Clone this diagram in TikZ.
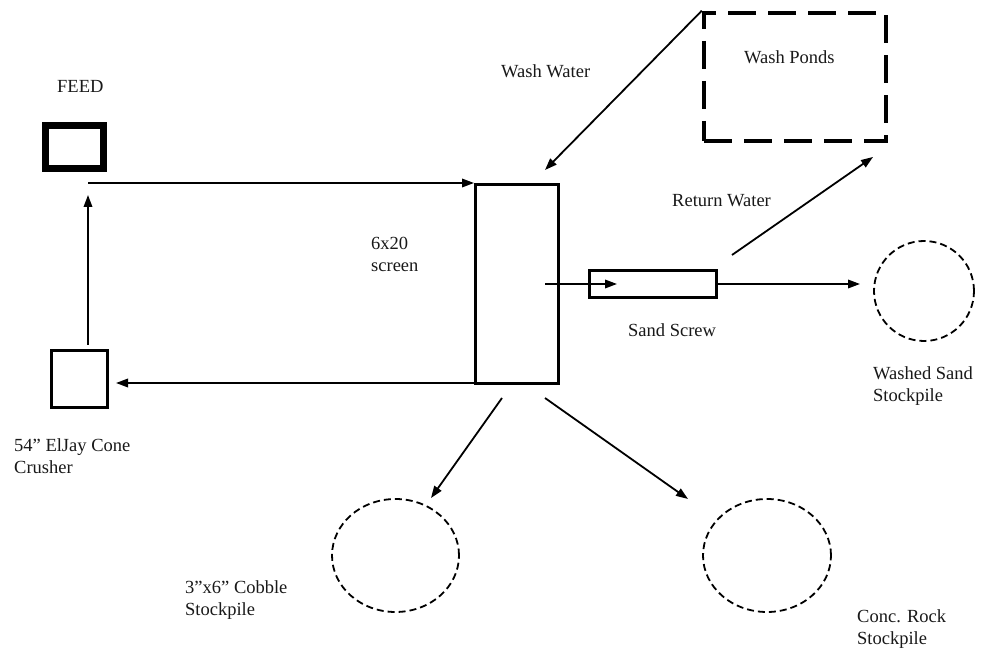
\documentclass[tikz,border=0pt]{standalone}
\usepackage{fontspec}
\setmainfont{Liberation Serif}
\usetikzlibrary{arrows.meta,shapes.geometric}
\newcommand{\twolines}[2]{\begin{tabular}[t]{@{}l@{}}#1\\#2\end{tabular}}
\tikzset{
  lbl/.style={anchor=base west,inner sep=0pt,text=black!90,font=\fontsize{18.5}{22}\selectfont},
  box/.style={draw,rectangle,inner sep=0pt,line width=3pt},
  pile/.style={draw,ellipse,inner sep=0pt,line width=1.8pt,dash pattern=on 7pt off 4pt},
  flow/.style={line width=1.8pt,-{Triangle[length=12pt,width=8.5pt]}},
}
\begin{document}
\begin{tikzpicture}[x=1pt,y=-1pt]
\useasboundingbox[fill=white] (0,0) rectangle (983,652);
% equipment
\node[box,line width=7pt,minimum width=58pt,minimum height=43pt] (feed) at (74.5,147) {};
\node[box,minimum width=56pt,minimum height=57pt] (crusher) at (79.5,379) {};
\node[box,minimum width=83pt,minimum height=199pt] (screen) at (517,284) {};
\node[box,minimum width=127pt,minimum height=27pt] (screw) at (653,284) {};
\node[draw,rectangle,inner sep=0pt,line width=4.5pt,dash pattern=on 28pt off 12pt,minimum width=182pt,minimum height=128pt] (ponds) at (795,77) {};
\node[pile,minimum width=100pt,minimum height=100pt] (sand) at (924,291) {};
\node[pile,minimum width=127pt,minimum height=113pt] (cobble) at (395.5,555.5) {};
\node[pile,minimum width=128pt,minimum height=113pt] (rock) at (767,555.5) {};
% labels
\node[lbl] (tfeed) at (57,93) {FEED};
\node[lbl] (tcrusher) at (14,451) {\twolines{54” ElJay Cone}{Crusher}};
\node[lbl] (tscreen) at (371,250) {\twolines{6x20}{screen}};
\node[lbl] (twash) at (501,78) {Wash Water};
\node[lbl] (tponds) at (744,64) {Wash Ponds};
\node[lbl] (treturn) at (672,207) {Return Water};
\node[lbl] (tscrew) at (628,337) {Sand Screw};
\node[lbl] (tsand) at (873,380) {\twolines{Washed Sand}{Stockpile}};
\node[lbl] (tcobble) at (185,593) {\twolines{3”x6” Cobble}{Stockpile}};
\node[lbl] (trock) at (857,622) {\twolines{Conc. Rock}{Stockpile}};
% connector end points
\coordinate (crushtop) at (88,345);
\coordinate (feedin) at (88,195);
\coordinate (crushin) at (116,383);
\coordinate (washend) at (545,170);
\coordinate (retstart) at (732,255);
\coordinate (retend) at (873,157);
\coordinate (scrstart) at (545,284);
\coordinate (scrend) at (617,284);
\coordinate (sandend) at (860,284);
\coordinate (cobstart) at (502,398);
\coordinate (cobend) at (431,498);
\coordinate (rockstart) at (545,398);
\coordinate (rockend) at (688,499);
% connectors
\draw[flow] (feedin |- screen.north west) -- (screen.north west);
\draw[flow] (crushtop) -- (feedin);
\draw[flow] (screen.south west |- crushin) -- (crushin);
\draw[flow] (ponds.north west) -- (washend);
\draw[flow] (retstart) -- (retend);
\draw[flow] (scrstart) -- (scrend);
\draw[flow] (screw.east) -- (sandend);
\draw[flow] (cobstart) -- (cobend);
\draw[flow] (rockstart) -- (rockend);
\end{tikzpicture}
\end{document}
